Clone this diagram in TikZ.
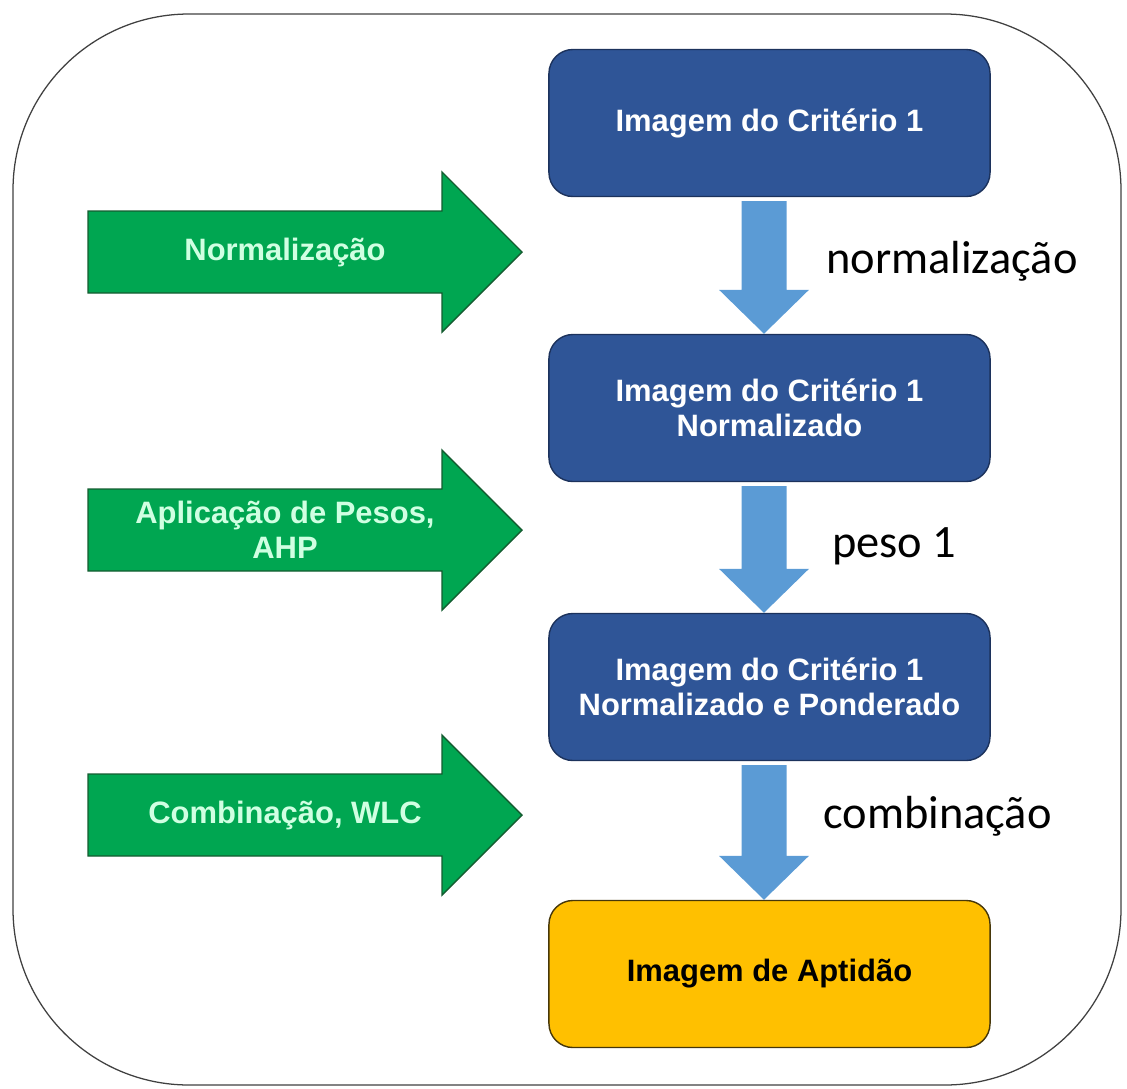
\documentclass[tikz,border=0pt]{standalone}
\usepackage{fontspec}
\setmainfont{Liberation Sans}
\newfontfamily\calibri{Carlito}
\usetikzlibrary{calc}

\definecolor{boxblue}{RGB}{47,85,151}
\definecolor{boxline}{RGB}{28,50,92}
\definecolor{arrowblue}{RGB}{91,155,213}
\definecolor{arrowgreen}{RGB}{0,166,81}
\definecolor{greenline}{RGB}{20,92,48}
\definecolor{mint}{RGB}{208,255,226}
\definecolor{aptyellow}{RGB}{255,192,0}
\definecolor{aptline}{RGB}{70,55,10}

\tikzset{
  stepbox/.style={draw=boxline, line width=1pt, fill=boxblue, rounded corners=0.6cm,
    minimum width=11.025cm, minimum height=3.675cm, align=center, text=white,
    font=\fontsize{22}{25}\selectfont\bfseries},
  resultbox/.style={stepbox, draw=aptline, fill=aptyellow, text=black},
  greenarrow/.style={draw=greenline, line width=1pt, fill=arrowgreen},
  greentext/.style={align=center, text=mint, font=\fontsize{22}{25}\selectfont\bfseries},
  steplabel/.style={anchor=base west, inner sep=0pt, font=\calibri\fontsize{33}{40}\selectfont},
  frame/.style={draw=black!75, line width=0.9pt, rounded corners=4.4cm}
}

\begin{document}
\begin{tikzpicture}[x=0.025cm, y=-0.025cm]

\useasboundingbox (0,0) rectangle (1127,1088);

% Frame
\draw[frame] (13,14) rectangle (1121,1085);

% Steps
\node[stepbox] (crit) at (769.5,123) {Imagem do Crit\'erio 1};
\node[stepbox] (critnorm) at (769.5,408) {Imagem do Crit\'erio 1\\Normalizado};
\node[stepbox] (critpond) at (769.5,687) {Imagem do Crit\'erio 1\\Normalizado e Ponderado};
\node[resultbox] (aptidao) at (769.5,974) {Imagem de Aptid\~ao};

% Arrows between steps
\foreach \a/\b in {crit/critnorm, critnorm/critpond, critpond/aptidao}
  \fill[arrowblue] ($(\a.south)+(-28,4)$) -- ($(\b.north)+(-28,-44)$) -- ($(\b.north)+(-50.5,-44)$)
    -- ($(\b.north)+(-5.5,0)$) -- ($(\b.north)+(39.5,-44)$) -- ($(\b.north)+(17,-44)$)
    -- ($(\a.south)+(17,4)$) -- cycle;

% Operations
\foreach \yc/\nm/\lbl in {252/opnorm/{Normaliza\c{c}\~ao}, 530/oppesos/{Aplica\c{c}\~ao de Pesos,\\AHP}, 815/opcomb/{Combina\c{c}\~ao, WLC}}{
  \draw[greenarrow] (88,\yc-41) -- (442,\yc-41) -- (442,\yc-80) -- (522,\yc) -- (442,\yc+80)
    -- (442,\yc+41) -- (88,\yc+41) -- cycle;
  \node[greentext] (\nm) at (285,\yc) {\lbl};
}

% Labels
\node[steplabel] (lnorm) at (826,273) {normaliza\c{c}\~ao};
\node[steplabel] (lpeso) at (832,557) {peso 1};
\node[steplabel] (lcomb) at (823,828) {combina\c{c}\~ao};

\end{tikzpicture}
\end{document}
